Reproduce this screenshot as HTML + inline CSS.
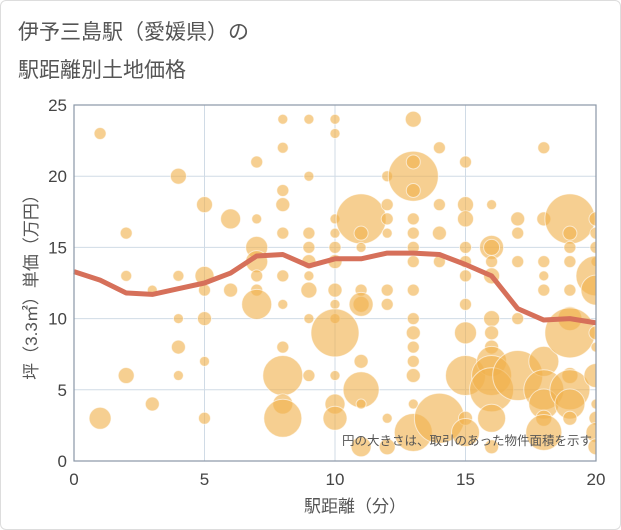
<!DOCTYPE html>
<html><head><meta charset="utf-8"><style>
body{margin:0;background:#fff;}
#card{position:absolute;left:0;top:0;width:619px;height:528px;border:1px solid #ddd;border-radius:6px;background:#fff;}
svg{position:absolute;left:0;top:0;font-family:"Liberation Sans","Noto Sans CJK JP",sans-serif;}
</style></head><body>
<div id="card"></div>
<svg id="chart" width="621" height="530">
<text x="18" y="39" font-size="21" fill="#555">伊予三島駅（愛媛県）の</text>
<text x="18" y="77" font-size="21" fill="#555">駅距離別土地価格</text>
<defs><clipPath id="pc"><rect x="74" y="105" width="522" height="356"/></clipPath></defs>
<g id="grid"></g>
<g id="bubbles" clip-path="url(#pc)"></g>
<g id="line"></g>
<g id="axes"></g>
<text x="592" y="445" font-size="12.5" fill="#555" text-anchor="end">円の大きさは、取引のあった物件面積を示す</text>
<text x="355" y="512" font-size="17" fill="#555" text-anchor="middle">駅距離（分）</text>
<text transform="translate(37,283) rotate(-90)" font-size="17" fill="#555" text-anchor="middle">坪（3.3㎡）単価（万円）</text>
</svg>
<script>
const xTicks=[0,5,10,15,20];
const yTicks=[0,5,10,15,20,25];
const lineX=[0,1,2,3,4,5,6,7,8,9,10,11,12,13,14,15,16,17,18,19,20];
const lineY=[13.3,12.7,11.8,11.7,12.1,12.5,13.2,14.4,14.5,13.7,14.2,14.2,14.6,14.6,14.5,13.8,13.0,10.7,9.9,10.0,9.7];
const bubX=[1,1,2,2,2,3,3,4,4,4,4,4,5,5,5,5,5,5,6,6,7,7,7,7,7,7,7,8,8,8,8,8,8,8,8,8,8,8,9,9,9,9,9,9,9,9,9,10,10,10,10,10,10,10,10,10,10,10,10,10,11,11,11,11,11,11,11,11,11,11,12,12,12,12,12,12,12,12,13,13,13,13,13,13,13,13,13,13,13,13,13,13,13,13,14,14,14,14,14,15,15,15,15,15,15,15,15,15,15,15,16,16,16,16,16,16,16,16,16,16,16,16,16,17,17,17,17,17,18,18,18,18,18,18,18,18,18,18,19,19,19,19,19,19,19,19,19,19,19,20,20,20,20,20,20,20,20,20,20,20,20,20];
const bubY=[23,3,16,13,6,12,4,20,13,10,8,6,18,13,12,10,7,3,17,12,21,17,15,14,13,12,11,24,22,19,18,16,13,11,8,6,4,3,24,20,16,15,14,13,12,10,6,24,23,17,16,15,14,12,11,10,9,6,4,3,17,16,15,12,11,11,7,5,4,1,20,18,17,16,12,11,3,1,24,20,21,19,17,16,15,14,12,10,9,8,7,6,4,2,22,18,16,14,3,21,18,17,15,14,13,11,9,6,3,2,18,15,15,14,13,10,9,8,7,6,5,3,1,17,16,14,10,6,22,17,14,13,12,7,5,4,3,2,17,16,15,14,12,10,9,6,5,4,3,17,16,15,14,13,12,9,8,6,4,3,2,1];
const bubR=[6,11,6,5.5,8,5,7,8,5.5,5,7,5,8,9.5,6,7,5,6,10,7,6,5,11,11,6,6,15,5,5.5,6,7,6,6,5,6,20,10,19,5,5,6,6,7,5,8,5,6,5,5,5,5,6,7,7,5,5,24,5,10,12,25,7,5,6,8,12,7,18,5,10,5.5,6,6,5,6,6,5,8,8,25,7,7,6,6,6,6,6,6,7,6,6,7,5,19,6,6,7,6,25,6,8,8,6,6,6,6,11,20,7,14,5,12,8,6,8,8,7,7,15,20,22,14,7,7,6,6,6,25,6,7,6,5,6,15,20,15,8,18,25,7,6,6,6,12,25,8,20,15,7,7,6,6,5,20,15,7,5,12,5,7,10,8];
const L=74,R=596,T=105,B=461;
const sx=v=>L+(v-0)/(20-0)*(R-L);
const sy=v=>B-(v-0)/(25-0)*(B-T);
const NS="http://www.w3.org/2000/svg";
function mk(t,a,p){const e=document.createElementNS(NS,t);for(const k in a)e.setAttribute(k,a[k]);p.appendChild(e);return e;}
const grid=document.getElementById('grid'),axes=document.getElementById('axes');
xTicks.forEach(v=>{
  const g=mk('line',{x1:sx(v),x2:sx(v),y1:T,y2:B,stroke:'#d0dbe6','stroke-width':1},grid);
  
  
  const t=mk('text',{x:sx(v),y:B+24,'font-size':17,fill:'#444','text-anchor':'middle'},axes);
  t.textContent=v;
  
  
});
yTicks.forEach(v=>{
  const g=mk('line',{x1:L,x2:R,y1:sy(v),y2:sy(v),stroke:'#d0dbe6','stroke-width':1},grid);
  
  
  const t=mk('text',{x:L-7,y:sy(v)+6,'font-size':17,fill:'#444','text-anchor':'end'},axes);
  t.textContent=v;
  
  
});
const fr=mk('rect',{x:L,y:T,width:R-L,height:B-T,fill:'none',stroke:'#8a97a6','stroke-width':1.2},axes);


const bg=document.getElementById('bubbles');
bubX.forEach((x,i)=>{
  const c=mk('circle',{cx:sx(x),cy:sy(bubY[i]),r:bubR[i],fill:'#f0b24e','fill-opacity':0.62,stroke:'#fff','stroke-opacity':0.6,'stroke-width':1},bg);
  
  
});
const pts=lineX.map((x,i)=>sx(x)+','+sy(lineY[i])).join(' ');
const pl=mk('polyline',{points:pts,fill:'none',stroke:'#d6705a','stroke-width':5,'stroke-linejoin':'round'},document.getElementById('line'));


</script>
</body></html>
